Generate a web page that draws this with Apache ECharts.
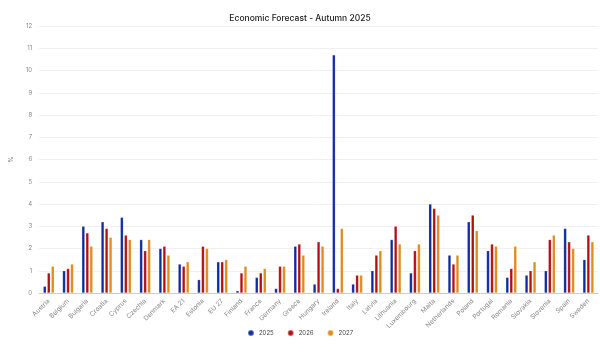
<!DOCTYPE html>
<html><head><meta charset="utf-8">
<script src="https://cdn.jsdelivr.net/npm/echarts@6/dist/echarts.min.js"></script>
<style>html,body{margin:0;padding:0;background:#fff}#c{width:600px;height:356px}</style>
</head><body><div id="c"></div>
<script>
const categories = ["Austria","Belgium","Bulgaria","Croatia","Cyprus","Czechia","Denmark","EA 21","Estonia","EU 27","Finland","France","Germany","Greece","Hungary","Ireland","Italy","Latvia","Lithuania","Luxembourg","Malta","Netherlands","Poland","Portugal","Romania","Slovakia","Slovenia","Spain","Sweden"];
const v2025 = [0.3,1.0,3.0,3.2,3.4,2.4,2.0,1.3,0.6,1.4,0.1,0.7,0.2,2.1,0.4,10.7,0.4,1.0,2.4,0.9,4.0,1.7,3.2,1.9,0.7,0.8,1.0,2.9,1.5];
const v2026 = [0.9,1.1,2.7,2.9,2.6,1.9,2.1,1.2,2.1,1.4,0.9,0.9,1.2,2.2,2.3,0.2,0.8,1.7,3.0,1.9,3.8,1.3,3.5,2.2,1.1,1.0,2.4,2.3,2.6];
const v2027 = [1.2,1.3,2.1,2.5,2.4,2.4,1.7,1.4,2.0,1.5,1.2,1.1,1.2,1.7,2.1,2.9,0.8,1.9,2.2,2.2,3.5,1.7,2.8,2.1,2.1,1.4,2.6,2.0,2.3];
const seriesNames = ["2025","2026","2027"];
const colors = ["#0d2b9e","#b30f12","#e08b1c"];
const yTicks = {min:0,max:12,interval:1};

const font = "Inter, 'Noto Sans', sans-serif";
const chart = echarts.init(document.getElementById('c'), null, {renderer:'canvas'});
const mk = (name, data, i) => ({
  name, type:'bar', data, barWidth:3, barGap:'33%',
  itemStyle:{color:colors[i], borderColor:'rgba(255,255,255,0.35)', borderWidth:0.5}
});
chart.setOption({
  animation:false,
  textStyle:{fontFamily:font},
  title:{text:'Economic Forecast - Autumn 2025', left:'center', top:9,
    textStyle:{fontSize:8.5, fontWeight:500, color:'#222', fontFamily:font}},
  grid:{left:20, right:2, top:26, bottom:63},
  legend:{bottom:14, left:'center', icon:'circle', itemWidth:6, itemHeight:6, itemGap:13,
    textStyle:{fontSize:6, color:'#444', fontFamily:font}},
  xAxis:{type:'category', data:categories,
    axisLine:{lineStyle:{color:'#ccc'}}, axisTick:{show:false},
    axisLabel:{rotate:45, fontSize:6.5, color:'#888', interval:0, margin:7, fontFamily:font}},
  yAxis:{type:'value', min:yTicks.min, max:yTicks.max, interval:yTicks.interval,
    name:'%', nameLocation:'middle', nameGap:18, nameRotate:90,
    nameTextStyle:{fontSize:6.5, color:'#777'},
    axisLabel:{fontSize:6, color:'#888', margin:7, fontFamily:font},
    splitLine:{lineStyle:{color:'#f0f0f0'}}},
  series:[mk(seriesNames[0],v2025,0), mk(seriesNames[1],v2026,1), mk(seriesNames[2],v2027,2)]
});
</script></body></html>
